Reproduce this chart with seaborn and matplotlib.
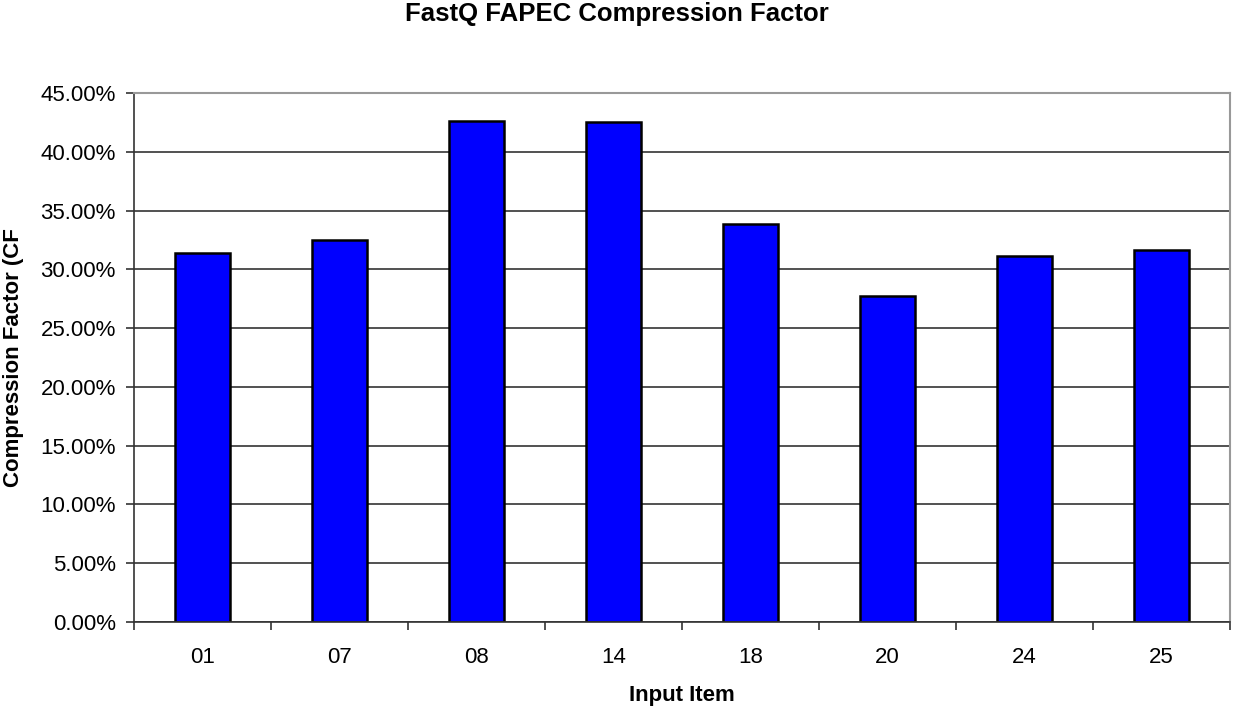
import matplotlib
matplotlib.use("Agg")
import matplotlib.pyplot as plt
from matplotlib.ticker import PercentFormatter, FixedLocator
import pandas as pd
import seaborn as sns

# data
items = ["01", "07", "08", "14", "18", "20", "24", "25"]
cf_values = [31.35, 32.48, 42.64, 42.53, 33.84, 27.73, 31.14, 31.65]

df = pd.DataFrame({"item": items, "cf": cf_values})

sns.set_style("white")
plt.rcParams['font.family'] = ['Liberation Sans', 'DejaVu Sans']
plt.rcParams['text.color'] = 'black'
plt.rcParams['axes.labelcolor'] = 'black'

fig = plt.figure(figsize=(12.34, 7.08), dpi=100)
ax = fig.add_axes([134/1234, 1 - 622/708, (1230-134)/1234, (622-93)/708])

sns.barplot(data=df, x="item", y="cf", color="#0000FF", width=0.4,
            edgecolor="black", linewidth=1.8, saturation=1, ax=ax)

ax.set_ylim(0, 45)
ax.set_xlim(-0.5, len(items) - 0.5)
ax.set_yticks(range(0, 46, 5))
ax.yaxis.set_major_formatter(PercentFormatter(decimals=2))
ax.grid(axis='y', color='#333333', linewidth=1.2)
ax.set_axisbelow(True)

# x ticks sit between the categories
ax.xaxis.set_minor_locator(FixedLocator([i - 0.5 for i in range(len(items) + 1)]))
ax.tick_params(axis='x', which='major', bottom=True, length=0, pad=18,
               labelsize=16, labelcolor='black')
ax.tick_params(axis='x', which='minor', bottom=True, length=6, width=1.2,
               color='#333333', direction='out')
ax.tick_params(axis='y', left=True, length=6, width=1.2, color='#333333',
               direction='out', labelsize=16, labelcolor='black', pad=7)

for side in ['left', 'bottom']:
    ax.spines[side].set_color('#333333')
    ax.spines[side].set_linewidth(1.2)
for side in ['top', 'right']:
    ax.spines[side].set_color('#999999')
    ax.spines[side].set_linewidth(1.5)

ax.set_xlabel("Input Item", fontsize=16, fontweight='bold')
ax.set_ylabel("Compression Factor (CF", fontsize=16, fontweight='bold')
ax.xaxis.set_label_coords(0.5, -(695 - 622) / 529, transform=ax.transAxes)
ax.yaxis.set_label_coords((14 - 134) / 1096, 0.5, transform=ax.transAxes)
ax.xaxis.label.set_va('center')
ax.yaxis.label.set_va('center')

fig.text(0.5, 1 - 14/708, "FastQ FAPEC Compression Factor", fontsize=18.5,
         fontweight='bold', ha='center', va='center')

fig.savefig("out.png", dpi=100)
